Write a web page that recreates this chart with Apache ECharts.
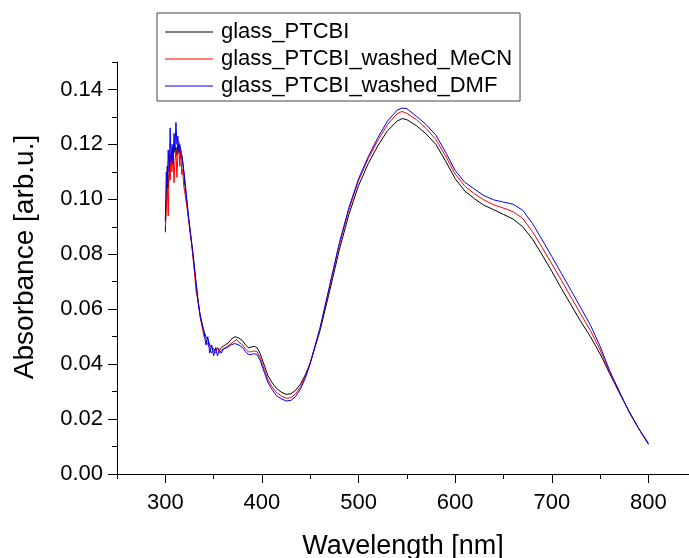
<!DOCTYPE html>
<html>
<head>
<meta charset="utf-8">
<script src="https://cdn.jsdelivr.net/npm/echarts@6/dist/echarts.min.js"></script>
<style>
html,body{margin:0;padding:0;background:#fff;}
#chart{width:689px;height:558px;}
</style>
</head>
<body>
<div id="chart"></div>
<script>
// Wavelengths (nm) shared by all series
const wavelengths = [
  300,301,302,303,304,305,306,307,308,309,310,311,312,313,314,315,316,317,318,319,320,
  322,324,326,328,330,332,334,336,338,340,342,344,346,348,350,352,354,356,358,360,362,364,366,368,370,372,374,376,378,380,
  383,386,389,392,395,398,
  400,403,406,410,415,420,425,430,435,440,445,450,
  460,470,480,490,500,510,520,530,540,545,
  550,560,570,580,590,600,610,620,630,640,650,660,670,680,690,700,710,720,730,740,750,760,770,780,790,800
];
const glassPTCBI = [
  0.088,0.100,0.112,0.104,0.110,0.116,0.112,0.118,0.114,0.120,0.117,0.119,0.116,0.120,0.117,0.118,0.115,0.116,0.113,0.110,0.106,
  0.100,0.093,0.087,0.082,0.075,0.069,0.063,0.058,0.055,0.052,0.050,0.049,0.047,0.046,0.046,0.045,0.046,0.045,0.046,0.046,0.047,0.047,0.048,0.049,0.0495,0.050,0.0502,0.0495,0.049,0.0485,
  0.047,0.046,0.0462,0.0465,0.046,0.044,
  0.042,0.039,0.036,0.0335,0.0312,0.0298,0.0290,0.0292,0.0305,0.0328,0.0362,0.0405,
  0.0520,0.0665,0.0815,0.0945,0.1050,0.1130,0.1195,0.1250,0.1285,0.1294,
  0.1290,0.1268,0.1238,0.1200,0.1140,0.1075,0.1030,0.1002,0.0978,0.0962,0.0945,0.0928,0.0900,0.0855,0.0798,0.0738,0.0675,0.0615,0.0555,0.0500,0.0437,0.0365,0.0295,0.0228,0.0165,0.0108
];
const glassPTCBIMeCN = [
  0.090,0.097,0.105,0.094,0.112,0.107,0.117,0.110,0.119,0.106,0.114,0.118,0.108,0.116,0.121,0.112,0.118,0.109,0.111,0.105,0.103,
  0.098,0.093,0.088,0.081,0.074,0.066,0.063,0.057,0.054,0.050,0.049,0.047,0.046,0.044,0.045,0.044,0.046,0.044,0.045,0.045,0.046,0.046,0.047,0.0475,0.048,0.0485,0.049,0.048,0.0475,0.047,
  0.0455,0.0445,0.0445,0.0448,0.0445,0.0425,
  0.0405,0.0375,0.0345,0.032,0.0297,0.0284,0.0276,0.0278,0.0292,0.0318,0.0356,0.0405,
  0.0528,0.0680,0.0833,0.0962,0.1068,0.1148,0.1215,0.1272,0.1312,0.1320,
  0.1313,0.1290,0.1258,0.1218,0.1158,0.1092,0.1048,0.1020,0.0997,0.0980,0.0968,0.0955,0.0930,0.0882,0.0825,0.0765,0.0705,0.0643,0.0582,0.0522,0.0452,0.0370,0.0298,0.0226,0.0165,0.0110
];
const glassPTCBIDMF = [
  0.092,0.110,0.104,0.118,0.110,0.126,0.114,0.120,0.113,0.124,0.118,0.128,0.120,0.123,0.117,0.120,0.118,0.116,0.114,0.111,0.108,
  0.101,0.094,0.088,0.082,0.076,0.069,0.062,0.058,0.054,0.052,0.047,0.050,0.044,0.047,0.043,0.046,0.043,0.045,0.044,0.0455,0.045,0.046,0.0465,0.047,0.047,0.0475,0.048,0.047,0.0465,0.046,
  0.0445,0.0435,0.0435,0.0438,0.0435,0.0415,
  0.0395,0.0365,0.0335,0.031,0.0285,0.0274,0.0266,0.0268,0.0283,0.0310,0.0350,0.0402,
  0.0530,0.0685,0.0840,0.0970,0.1075,0.1155,0.1225,0.1285,0.1325,0.1332,
  0.1330,0.1302,0.1272,0.1234,0.1172,0.1105,0.1062,0.1037,0.1013,0.0998,0.0990,0.0982,0.0960,0.0912,0.0853,0.0792,0.0730,0.0668,0.0605,0.0542,0.0465,0.0375,0.0300,0.0226,0.0165,0.0112
];
const seriesNames = ['glass_PTCBI','glass_PTCBI_washed_MeCN','glass_PTCBI_washed_DMF'];
const seriesColors = ['#000000','#ff0000','#0000ff'];
const xMajorTicks = [300,400,500,600,700,800];
const xMinorTicks = [250,350,450,550,650,750];
const yMajorTicks = [0,0.02,0.04,0.06,0.08,0.10,0.12,0.14];
const yMinorTicks = [0.01,0.03,0.05,0.07,0.09,0.11,0.13,0.15];

const allValues = [glassPTCBI, glassPTCBIMeCN, glassPTCBIDMF];
const zip = vals => wavelengths.map((w,i)=>[w, vals[i]]);

const FONT = '"Liberation Sans", Arial, sans-serif';
const chart = echarts.init(document.getElementById('chart'), null, {renderer:'canvas'});
const axisLineStyle = {color:'#000', width:1};
chart.setOption({
  backgroundColor:'#fff',
  animation:false,
  grid:{left:117, top:62, right:0, bottom:84, containLabel:false, outerBoundsMode:'none'},
  legend:{
    orient:'vertical', left:157, top:13,
    borderColor:'#444', borderWidth:1, padding:[8,8,4,8],
    icon:'rect', itemWidth:48, itemHeight:1.2, itemGap:5,
    textStyle:{fontFamily:FONT, fontSize:22, color:'#000', padding:[0,0,0,3]},
    data:seriesNames
  },
  xAxis:[{
    type:'value', min:250, max:842,
    axisLine:{show:true, lineStyle:axisLineStyle},
    axisTick:{show:true, length:9, lineStyle:axisLineStyle, customValues:xMajorTicks},
    axisLabel:{show:true, fontFamily:FONT, fontSize:22, color:'#000', margin:18, customValues:xMajorTicks},
    splitLine:{show:false},
    name:'Wavelength [nm]', nameLocation:'middle', nameGap:59,
    nameTextStyle:{fontFamily:FONT, fontSize:27, color:'#000'}
  },{
    type:'value', min:250, max:842, position:'bottom',
    axisLine:{show:false},
    axisTick:{show:true, length:5, lineStyle:axisLineStyle, customValues:xMinorTicks},
    axisLabel:{show:false},
    splitLine:{show:false}
  }],
  yAxis:[{
    type:'value', min:0, max:0.15,
    axisLine:{show:true, lineStyle:axisLineStyle},
    axisTick:{show:true, length:9, lineStyle:axisLineStyle, customValues:yMajorTicks},
    axisLabel:{show:true, fontFamily:FONT, fontSize:22, color:'#000', margin:14, customValues:yMajorTicks,
      formatter:v=>v.toFixed(2)},
    splitLine:{show:false},
    name:'Absorbance [arb.u.]', nameLocation:'middle', nameGap:78,
    nameTextStyle:{fontFamily:FONT, fontSize:28, color:'#000', padding:[0,0,0,22]}
  },{
    type:'value', min:0, max:0.15, position:'left',
    axisLine:{show:false},
    axisTick:{show:true, length:5, lineStyle:axisLineStyle, customValues:yMinorTicks},
    axisLabel:{show:false},
    splitLine:{show:false}
  }],
  series: allValues.map((vals,i)=>({
    name:seriesNames[i], type:'line', data:zip(vals),
    xAxisIndex:0, yAxisIndex:0,
    symbol:'none', showSymbol:false, smooth:false,
    lineStyle:{color:seriesColors[i], width:1},
    itemStyle:{color:seriesColors[i]}
  }))
});
</script>
</body>
</html>
